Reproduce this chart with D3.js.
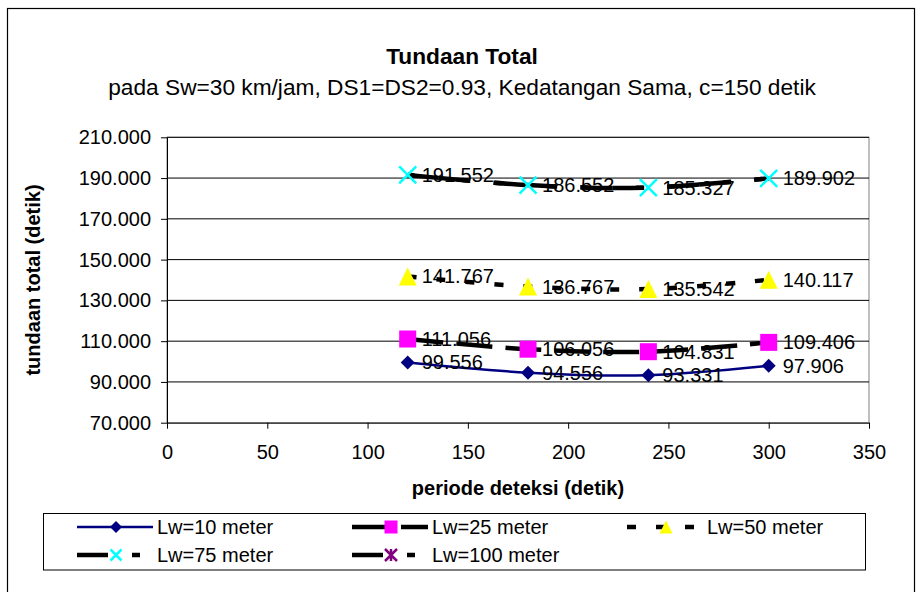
<!DOCTYPE html>
<html><head><meta charset="utf-8">
<script src="https://cdn.jsdelivr.net/npm/d3@7"></script>
<style>
html,body{margin:0;padding:0;background:#fff;}
svg{display:block;font-family:"Liberation Sans",Arial,sans-serif;}
</style></head><body>
<svg id="c" width="924" height="592"></svg>
<script>
// ---- data ----
const periods = [120, 180, 240, 300];
const lw10  = [99.556, 94.556, 93.331, 97.906];
const lw25  = [111.056, 106.056, 104.831, 109.406];
const lw50  = [141.767, 136.767, 135.542, 140.117];
const lw75  = [191.552, 186.552, 185.327, 189.902];
const lw100 = [191.552, 186.552, 185.327, 189.902];
const seriesNames = ["Lw=10 meter", "Lw=25 meter", "Lw=50 meter", "Lw=75 meter", "Lw=100 meter"];
const xTicks = [0, 50, 100, 150, 200, 250, 300, 350];
const yTicks = [70, 90, 110, 130, 150, 170, 190, 210];
const titleText = "Tundaan Total";
const subtitleText = "pada Sw=30 km/jam, DS1=DS2=0.93, Kedatangan Sama, c=150 detik";
const xTitle = "periode deteksi (detik)";
const yTitle = "tundaan total (detik)";

// ---- styles ----
const styles = [
  {vals: lw10,  color:"#000080", width:2.5, dash:null, marker:"diamond", mfill:"#000080", labels:true},
  {vals: lw25,  color:"#000000", width:4.5, dash:"36,13", marker:"square", mfill:"#FF00FF", labels:true},
  {vals: lw50,  color:"#000000", width:4.5, dash:"9,20", marker:"triangle", mfill:"#FFFF00", labels:true},
  {vals: lw75,  color:"#000000", width:4.5, dash:"31,24,8,24", offset:0, marker:"x", mfill:"#00FFFF", labels:true},
  {vals: lw100, color:"#000000", width:4.5, dash:"31,24,8,24", offset:56, marker:"asterisk", mfill:"#800080", labels:false, hideMarkers:true}
];

const svg = d3.select("#c");
const F = '"Liberation Sans",Arial,sans-serif';

// outer border
svg.append("rect").attr("x",7.5).attr("y",8.5).attr("width",907).attr("height",620)
  .attr("fill","none").attr("stroke","#000").attr("stroke-width",1.2);

const L = 167, R = 869, T = 137.3, B = 422.7;
const x = d3.scaleLinear().domain([0,350]).range([L,R]);
const y = d3.scaleLinear().domain([70,210]).range([B,T]);

// plot area border
svg.append("rect").attr("x",L).attr("y",T).attr("width",R-L).attr("height",B-T)
  .attr("fill","none").attr("stroke","#808080").attr("stroke-width",1);

// gridlines
svg.append("g").selectAll("line").data(yTicks.slice(1)).join("line")
  .attr("x1",L).attr("x2",R).attr("y1",d=>y(d)).attr("y2",d=>y(d))
  .attr("stroke","#000").attr("stroke-width",1);

// axes
const yAxis = svg.append("g").attr("transform",`translate(${L},0)`)
  .call(d3.axisLeft(y).tickValues(yTicks).tickFormat(d3.format(".3f")).tickSize(6).tickSizeOuter(0).tickPadding(10));
const xAxis = svg.append("g").attr("transform",`translate(0,${B})`)
  .call(d3.axisBottom(x).tickValues(xTicks).tickFormat(d3.format("d")).tickSize(6).tickSizeOuter(0).tickPadding(16));
[yAxis,xAxis].forEach(a=>{
  a.selectAll("path,line").attr("stroke","#000").attr("stroke-width",1);
  a.selectAll("text").attr("font-family",F).attr("font-size",20).attr("fill","#000");
});

// titles
svg.append("text").attr("x",462).attr("y",64).attr("text-anchor","middle")
  .attr("font-family",F).attr("font-size",22.7).attr("font-weight","bold").text(titleText);
svg.append("text").attr("x",462).attr("y",95).attr("text-anchor","middle")
  .attr("font-family",F).attr("font-size",22.7).text(subtitleText);
svg.append("text").attr("x",518).attr("y",495).attr("text-anchor","middle")
  .attr("font-family",F).attr("font-size",20).attr("font-weight","bold").text(xTitle);
svg.append("text").attr("transform","translate(40,280) rotate(-90)").attr("text-anchor","middle")
  .attr("font-family",F).attr("font-size",20).attr("font-weight","bold").text(yTitle);

// markers
function drawMarker(g, type, cx, cy, fill, s){
  if(type==="diamond"){
    const h=s/2;
    g.append("path").attr("d",`M${cx},${cy-h}L${cx+h},${cy}L${cx},${cy+h}L${cx-h},${cy}Z`).attr("fill",fill);
  } else if(type==="square"){
    g.append("rect").attr("x",cx-s/2).attr("y",cy-s/2).attr("width",s).attr("height",s).attr("fill",fill);
  } else if(type==="triangle"){
    g.append("path").attr("d",`M${cx},${cy-s/2}L${cx+s/2},${cy+s/2}L${cx-s/2},${cy+s/2}Z`).attr("fill",fill);
  } else if(type==="x"){
    const h=s/2;
    g.append("path").attr("d",`M${cx-h},${cy-h}L${cx+h},${cy+h}M${cx+h},${cy-h}L${cx-h},${cy+h}`)
      .attr("stroke",fill).attr("stroke-width",2.5).attr("fill","none");
  } else if(type==="asterisk"){
    const h=s/2;
    g.append("path").attr("d",`M${cx-h},${cy-h}L${cx+h},${cy+h}M${cx+h},${cy-h}L${cx-h},${cy+h}M${cx},${cy-h}L${cx},${cy+h}`)
      .attr("stroke",fill).attr("stroke-width",2.5).attr("fill","none");
  }
}
const msize = {diamond:14, square:17, triangle:18, x:17, asterisk:14};

const line = d3.line().x((d,i)=>x(periods[i])).y(d=>y(d)).curve(d3.curveCardinal.tension(0));
const plot = svg.append("g");
// draw in order so that Lw=100 sits under Lw=75
const order = [0,1,2,4,3];
order.forEach(k=>{
  const s = styles[k];
  const g = plot.append("g");
  g.append("path").attr("d",line(s.vals)).attr("fill","none").attr("stroke",s.color)
    .attr("stroke-width",s.width).attr("stroke-dasharray",s.dash).attr("stroke-dashoffset",s.offset||0);
  if(!s.hideMarkers) s.vals.forEach((v,i)=>drawMarker(g,s.marker,x(periods[i]),y(v),s.mfill,msize[s.marker]));
});
// data labels
styles.forEach(s=>{
  if(!s.labels) return;
  plot.append("g").selectAll("text").data(s.vals).join("text")
    .attr("x",(d,i)=>x(periods[i])+14).attr("y",d=>y(d)).attr("dy","0.35em")
    .attr("font-family",F).attr("font-size",20).attr("fill","#000")
    .text(d=>d3.format(".3f")(d));
});

// legend
svg.append("rect").attr("x",43.5).attr("y",513.5).attr("width",822).attr("height",56.5)
  .attr("fill","#fff").attr("stroke","#000").attr("stroke-width",1);
const legPos = [[77,527],[352,527],[627,527],[77,555],[352,555]];
const lsize = {diamond:12, square:13, triangle:13, x:11, asterisk:12};
styles.forEach((s,k)=>{
  const [lx,ly]=legPos[k];
  const g = svg.append("g");
  g.append("line").attr("x1",lx).attr("x2",lx+76).attr("y1",ly).attr("y2",ly)
    .attr("stroke",s.color).attr("stroke-width",s.width).attr("stroke-dasharray",s.dash);
  drawMarker(g,s.marker,lx+39,ly,s.mfill,lsize[s.marker]);
  g.append("text").attr("x",lx+80).attr("y",ly).attr("dy","0.35em")
    .attr("font-family",F).attr("font-size",20).attr("fill","#000").text(seriesNames[k]);
});
</script>
</body></html>
